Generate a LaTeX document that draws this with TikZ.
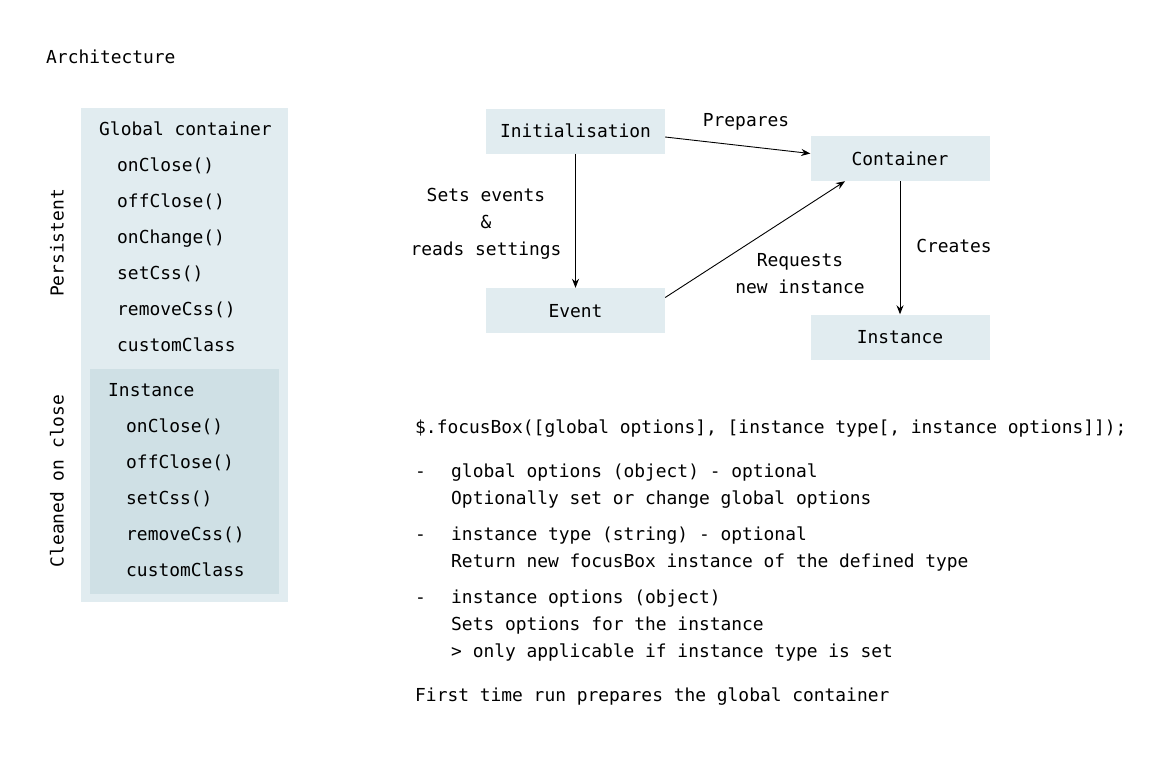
\documentclass[tikz,border=0pt]{standalone}
\usepackage{fontspec}
\setmainfont{DejaVu Sans Mono}
\usetikzlibrary{arrows.meta}
\definecolor{boxlight}{HTML}{E1ECF0}
\definecolor{boxdark}{HTML}{CFE0E5}
\begin{document}
\begin{tikzpicture}[x=1pt,y=-1pt,
    every node/.style={font=\fontsize{17.9}{27}\selectfont,inner sep=0pt,text height=13pt,text depth=0pt},
    stepbox/.style={fill=boxlight,minimum width=179pt,minimum height=45pt},
    flow/.style={-{Stealth[length=9pt,width=7pt]},line width=0.9pt},
    lbl/.style={align=center,text height=,text depth=}]
    \useasboundingbox (0,0) rectangle (1170,756);

    \node[anchor=west] (title) at (46,57) {Architecture};

    % left column
    \fill[boxlight] (81,108) rectangle (288,602);
    \fill[boxdark] (90,369) rectangle (279,594);
    \node[anchor=west] (glob) at (99,129) {Global container};
    \foreach \fn [count=\i] in {onClose(),offClose(),onChange(),setCss(),removeCss(),customClass}
        \node[anchor=west] (g\i) at (117,129+36*\i) {\fn};
    \node[anchor=west] (inst0) at (108,390) {Instance};
    \foreach \fn [count=\i] in {onClose(),offClose(),setCss(),removeCss(),customClass}
        \node[anchor=west] (c\i) at (126,390+36*\i) {\fn};
    \node[rotate=90] (pers) at (57,243) {Persistent};
    \node[rotate=90] (clean) at (57,481) {Cleaned on close};

    % flow
    \node[stepbox] (init) at (575.5,131) {Initialisation};
    \node[stepbox] (cont) at (900,158.5) {Container};
    \node[stepbox] (evt) at (575.5,310.5) {Event};
    \node[stepbox] (inst) at (900,337) {Instance};

    \draw[flow] ([yshift=-6pt]init.east) -- ([yshift=5pt]cont.west);
    \draw[flow] (init) -- (evt);
    \draw[flow] ([yshift=13pt]evt.east) -- ([xshift=-55pt]cont.south);
    \draw[flow] (cont) -- (inst);

    \node (prep) at (746,120) {Prepares};
    \node[lbl] (sets) at (486,224) {Sets events\\\&\\reads settings};
    \node[lbl] (req) at (800,274) {Requests\\new instance};
    \node (creat) at (954,246) {Creates};

    % usage
    \node[anchor=west] (call) at (415,427) {\$.focusBox([global options], [instance type[, instance options]]);};
    \node[anchor=west] (d1) at (415,471) {-};
    \node[anchor=west] (o1) at (451,471) {global options (object) - optional};
    \node[anchor=west] (o1b) at (451,498) {Optionally set or change global options};
    \node[anchor=west] (d2) at (415,534) {-};
    \node[anchor=west] (o2) at (451,534) {instance type (string) - optional};
    \node[anchor=west] (o2b) at (451,561) {Return new focusBox instance of the defined type};
    \node[anchor=west] (d3) at (415,597) {-};
    \node[anchor=west] (o3) at (451,597) {instance options (object)};
    \node[anchor=west] (o3b) at (451,624) {Sets options for the instance};
    \node[anchor=west] (o3c) at (451,651) {> only applicable if instance type is set};
    \node[anchor=west] (first) at (415,695) {First time run prepares the global container};
\end{tikzpicture}
\end{document}
